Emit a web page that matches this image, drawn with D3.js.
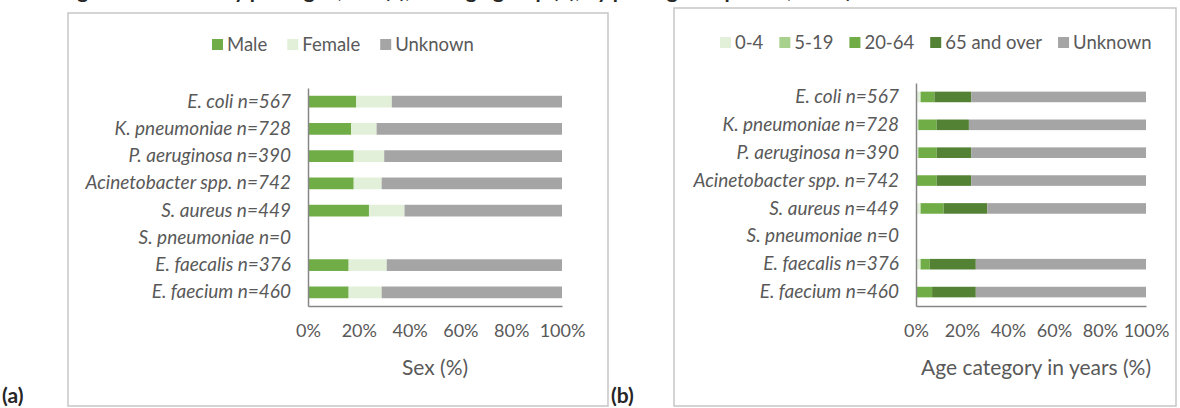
<!DOCTYPE html>
<html>
<head>
<meta charset="utf-8">
<script src="https://cdn.jsdelivr.net/npm/d3@7"></script>
<style>
  body { margin: 0; background: #fff; }
  svg text { font-family: Lato, "Open Sans", sans-serif; fill: #595959; }
</style>
</head>
<body>
<svg id="chart" width="1180" height="408"></svg>
<script>
const PATHOGENS = ["E. coli", "K. pneumoniae", "P. aeruginosa", "Acinetobacter spp.", "S. aureus", "S. pneumoniae", "E. faecalis", "E. faecium"];
const COUNTS = [567, 728, 390, 742, 449, 0, 376, 460];

// (a) sex, percent
const SEX_KEYS = ["Male", "Female", "Unknown"];
const MALE = [19, 17, 18, 18, 24, 0, 16, 16];
const FEMALE = [14, 10, 12, 11, 14, 0, 15, 13];
const SEX_UNKNOWN = [67, 73, 70, 71, 62, 0, 69, 71];

// (b) age group, percent
const AGE_KEYS = ["0-4", "5-19", "20-64", "65 and over", "Unknown"];
const AGE_0_4 = [2, 1, 1, 0, 2, 0, 2, 0];
const AGE_5_19 = [0, 0, 0, 0, 0, 0, 0, 0];
const AGE_20_64 = [6, 8, 8, 9, 10, 0, 4, 7];
const AGE_65 = [16, 14, 15, 15, 19, 0, 20, 19];
const AGE_UNKNOWN = [76, 77, 76, 76, 69, 0, 74, 74];

const X_TICKS = [0, 0.2, 0.4, 0.6, 0.8, 1];

const svg = d3.select("#chart");

// title line, cut off at the top edge of the picture (only descenders show)
svg.append("text")
    .attr("x", 60)
    .attr("y", -2)
    .style("font-weight", "bold")
    .style("font-size", "21px")
    .style("fill", "#262626")
    .text("Figure 2. Isolates by pathogen, sex (a), and age group (b), by pathogen reported, 2019)");

function label(name, n) {
    return name + " n=" + n;
}

function drawPanel(opt) {
    const rows = PATHOGENS.map((p, i) => {
        const r = {name: label(p, COUNTS[i])};
        opt.keys.forEach((k, j) => r[k] = opt.series[j][i] / 100);
        return r;
    });

    svg.append("rect")
        .attr("x", opt.box[0]).attr("y", opt.box[1])
        .attr("width", opt.box[2]).attr("height", opt.box[3])
        .attr("fill", "none")
        .attr("stroke", "#c6c6c6")
        .attr("stroke-width", 1.5);

    const x = d3.scaleLinear().domain([0, 1]).range([opt.left, opt.right]);
    const y = d3.scaleBand()
        .domain(rows.map(d => d.name))
        .range([opt.top, opt.bottom])
        .paddingInner(opt.pad)
        .paddingOuter(opt.pad / 2);

    const stack = d3.stack().keys(opt.keys)(rows);
    const color = d3.scaleOrdinal().domain(opt.keys).range(opt.colors);

    svg.append("g")
        .selectAll("g")
        .data(stack)
        .enter()
        .append("g")
            .attr("fill", d => color(d.key))
        .selectAll("rect")
        .data(d => d)
        .enter()
        .append("rect")
            .attr("x", d => x(d[0]))
            .attr("width", d => x(d[1]) - x(d[0]))
            .attr("y", d => y(d.data.name))
            .attr("height", y.bandwidth());

    const yAxis = svg.append("g")
        .attr("transform", "translate(" + opt.left + ",0)")
        .call(d3.axisLeft(y).tickSize(0).tickPadding(17));
    yAxis.select(".domain").attr("stroke", "#868686").attr("stroke-width", 1.5);
    yAxis.selectAll("text")
        .style("font-size", "19px")
        .style("font-style", "italic")
        .style("fill", "#595959");

    const xAxis = svg.append("g")
        .attr("transform", "translate(0," + opt.bottom + ")")
        .call(d3.axisBottom(x).tickValues(X_TICKS).tickFormat(d3.format(".0%")).tickSize(0).tickPadding(18));
    xAxis.select(".domain").attr("stroke", "#868686").attr("stroke-width", 1.5);
    xAxis.selectAll("text")
        .style("font-size", "18px")
        .style("fill", "#595959");

    svg.append("text")
        .attr("x", opt.titleX)
        .attr("y", 375)
        .attr("text-anchor", "middle")
        .style("font-size", "21px")
        .text(opt.title);

    // legend
    const lg = svg.append("g");
    let lx = opt.legendX;
    opt.keys.forEach((k, i) => {
        lg.append("rect")
            .attr("x", lx).attr("y", opt.legendY - 5)
            .attr("width", 11).attr("height", 11)
            .attr("fill", color(k));
        const t = lg.append("text")
            .attr("x", lx + 15).attr("y", opt.legendY + 7)
            .style("font-size", "18.5px")
            .text(k);
        lx += 15 + t.node().getComputedTextLength() + opt.legendGap;
    });
}

drawPanel({
    box: [68, 13, 540, 393],
    left: 308, right: 562, top: 88, bottom: 306, pad: 0.57,
    keys: SEX_KEYS,
    series: [MALE, FEMALE, SEX_UNKNOWN],
    colors: ["#70ad47", "#e2f0d9", "#a5a5a5"],
    title: "Sex (%)", titleX: 435,
    legendX: 212, legendY: 44, legendGap: 20
});

drawPanel({
    box: [674, 8, 502, 398],
    left: 916, right: 1146, top: 83, bottom: 306, pad: 0.62,
    keys: AGE_KEYS,
    series: [AGE_0_4, AGE_5_19, AGE_20_64, AGE_65, AGE_UNKNOWN],
    colors: ["#e2f0d9", "#a9d18e", "#70ad47", "#548235", "#a5a5a5"],
    title: "Age category in years (%)", titleX: 1036,
    legendX: 720, legendY: 42, legendGap: 16
});

svg.append("text").attr("x", 2).attr("y", 403)
    .style("font-weight", "bold").style("font-size", "21px").style("fill", "#262626")
    .text("(a)");
svg.append("text").attr("x", 611).attr("y", 403)
    .style("font-weight", "bold").style("font-size", "21px").style("fill", "#262626")
    .text("(b)");
</script>
</body>
</html>
